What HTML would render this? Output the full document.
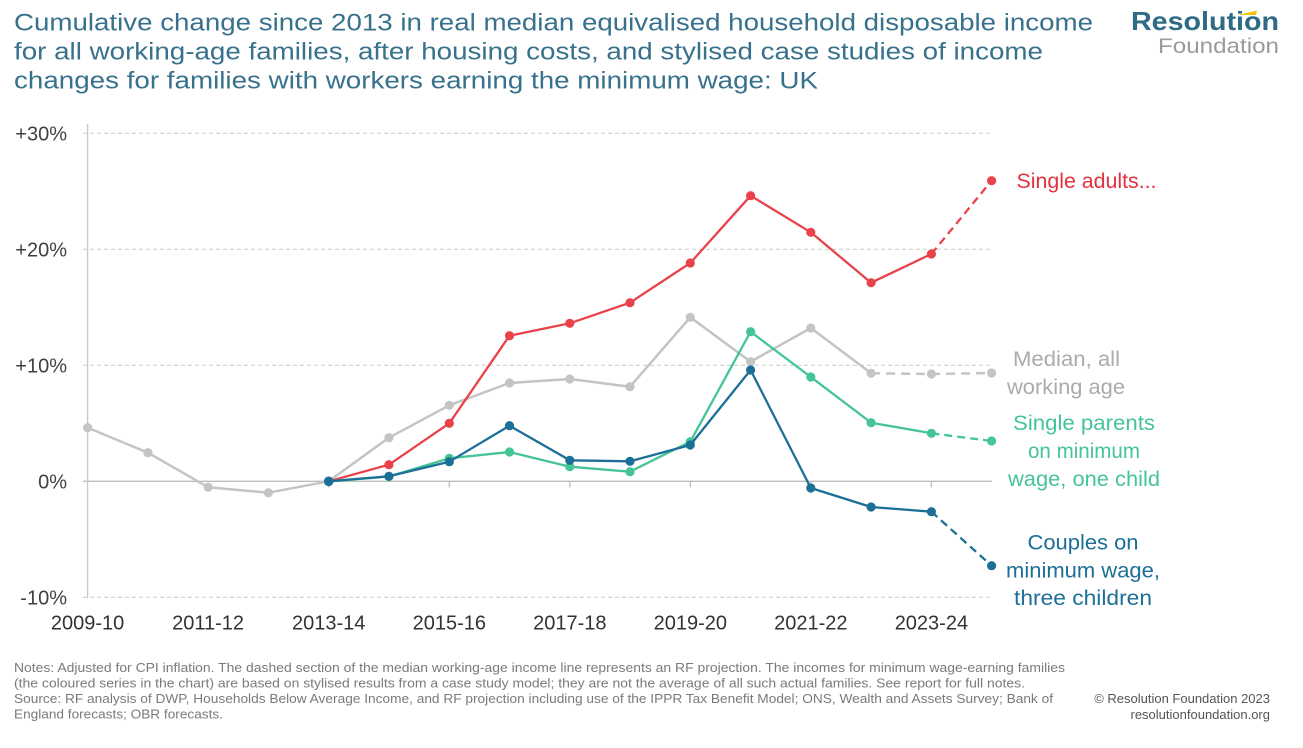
<!DOCTYPE html>
<html><head><meta charset="utf-8"><style>
html,body{margin:0;padding:0;background:#fff;}
svg{display:block;}
text{font-family:"Liberation Sans",sans-serif;}
</style></head><body>
<svg width="1303" height="748" viewBox="0 0 1303 748" xmlns="http://www.w3.org/2000/svg">
<rect width="1303" height="748" fill="#fff"/>
<!-- Title -->
<g fill="#37718C" font-size="24">
<text x="14" y="30.5" textLength="1079" lengthAdjust="spacingAndGlyphs">Cumulative change since 2013 in real median equivalised household disposable income</text>
<text x="14" y="59.5" textLength="1029" lengthAdjust="spacingAndGlyphs">for all working-age families, after housing costs, and stylised case studies of income</text>
<text x="14" y="88.5" textLength="804" lengthAdjust="spacingAndGlyphs">changes for families with workers earning the minimum wage: UK</text>
</g>
<!-- Logo -->
<text x="1131" y="30" font-size="26" font-weight="bold" fill="#2E6B85" textLength="148" lengthAdjust="spacingAndGlyphs">Resolution</text>
<polygon points="1238,15 1257,10.5 1256,15" fill="#F2C500"/>
<text x="1158" y="53" font-size="21" fill="#9B9B9B" textLength="121" lengthAdjust="spacingAndGlyphs">Foundation</text>

<!-- Gridlines -->
<g stroke="#CACACA" stroke-width="1" stroke-dasharray="4,3">
<line x1="83" y1="133.3" x2="992" y2="133.3"/>
<line x1="83" y1="249.3" x2="992" y2="249.3"/>
<line x1="83" y1="365.3" x2="992" y2="365.3"/>
<line x1="83" y1="597.3" x2="992" y2="597.3"/>
</g>
<line x1="83" y1="481.3" x2="992" y2="481.3" stroke="#BDBDBD" stroke-width="1.3"/>
<line x1="87.6" y1="124" x2="87.6" y2="598" stroke="#C8C8C8" stroke-width="1.3"/>
<g stroke="#BDBDBD" stroke-width="1.3">
<line x1="328.7" y1="481.3" x2="328.7" y2="487.5"/>
<line x1="449.3" y1="481.3" x2="449.3" y2="487.5"/>
<line x1="569.8" y1="481.3" x2="569.8" y2="487.5"/>
<line x1="690.3" y1="481.3" x2="690.3" y2="487.5"/>
<line x1="810.8" y1="481.3" x2="810.8" y2="487.5"/>
<line x1="931.4" y1="481.3" x2="931.4" y2="487.5"/>
</g>

<!-- Y labels -->
<g fill="#404040" font-size="20" text-anchor="end">
<text x="67" y="140.5">+30%</text>
<text x="67" y="256.5">+20%</text>
<text x="67" y="372.5">+10%</text>
<text x="67" y="488.5">0%</text>
<text x="67" y="604.5">-10%</text>
</g>
<!-- X labels -->
<g fill="#333" font-size="20" text-anchor="middle">
<text x="87.6" y="629.5">2009-10</text>
<text x="208.1" y="629.5">2011-12</text>
<text x="328.7" y="629.5">2013-14</text>
<text x="449.3" y="629.5">2015-16</text>
<text x="569.8" y="629.5">2017-18</text>
<text x="690.3" y="629.5">2019-20</text>
<text x="810.8" y="629.5">2021-22</text>
<text x="931.4" y="629.5">2023-24</text>
</g>

<!-- Grey median -->
<g stroke="#C4C4C4" stroke-width="2.5" fill="none" stroke-linejoin="round">
<polyline points="87.6,427.6 147.9,452.7 208.1,487.2 268.4,492.7 328.7,481.3 388.9,437.7 449.3,405.3 509.5,383 569.8,379 630,386.7 690.3,317.3 750.6,361.7 810.8,328 871.1,373.3"/>
<polyline points="871.1,373.3 931.4,374 991.6,373" stroke-dasharray="9,6"/>
</g>
<g fill="#C4C4C4">
<circle cx="87.6" cy="427.6" r="4.6"/><circle cx="147.9" cy="452.7" r="4.6"/><circle cx="208.1" cy="487.2" r="4.6"/><circle cx="268.4" cy="492.7" r="4.6"/><circle cx="388.9" cy="437.7" r="4.6"/><circle cx="449.3" cy="405.3" r="4.6"/><circle cx="509.5" cy="383" r="4.6"/><circle cx="569.8" cy="379" r="4.6"/><circle cx="630" cy="386.7" r="4.6"/><circle cx="690.3" cy="317.3" r="4.6"/><circle cx="750.6" cy="361.7" r="4.6"/><circle cx="810.8" cy="328" r="4.6"/><circle cx="871.1" cy="373.3" r="4.6"/><circle cx="931.4" cy="374" r="4.6"/><circle cx="991.6" cy="373" r="4.6"/>
</g>

<!-- Red -->
<g stroke="#E8434B" stroke-width="2.3" fill="none" stroke-linejoin="round">
<polyline points="328.7,481.3 388.9,464.7 449.3,423.3 509.5,335.7 569.8,323.3 630,302.7 690.3,263 750.6,195.7 810.8,232.3 871.1,282.7 931.4,254"/>
<polyline points="931.4,254 991.6,180.7" stroke-dasharray="8,5"/>
</g>
<g fill="#E8434B">
<circle cx="388.9" cy="464.7" r="4.6"/><circle cx="449.3" cy="423.3" r="4.6"/><circle cx="509.5" cy="335.7" r="4.6"/><circle cx="569.8" cy="323.3" r="4.6"/><circle cx="630" cy="302.7" r="4.6"/><circle cx="690.3" cy="263" r="4.6"/><circle cx="750.6" cy="195.7" r="4.6"/><circle cx="810.8" cy="232.3" r="4.6"/><circle cx="871.1" cy="282.7" r="4.6"/><circle cx="931.4" cy="254" r="4.6"/><circle cx="991.6" cy="180.7" r="4.6"/>
</g>

<!-- Green -->
<g stroke="#45C496" stroke-width="2.3" fill="none" stroke-linejoin="round">
<polyline points="328.7,481.3 388.9,476.5 449.3,458.3 509.5,452 569.8,466.7 630,471.7 690.3,441.7 750.6,331.7 810.8,377 871.1,422.7 931.4,433.3"/>
<polyline points="931.4,433.3 991.6,441" stroke-dasharray="8,5"/>
</g>
<g fill="#45C496">
<circle cx="388.9" cy="476.5" r="4.6"/><circle cx="449.3" cy="458.3" r="4.6"/><circle cx="509.5" cy="452" r="4.6"/><circle cx="569.8" cy="466.7" r="4.6"/><circle cx="630" cy="471.7" r="4.6"/><circle cx="690.3" cy="441.7" r="4.6"/><circle cx="750.6" cy="331.7" r="4.6"/><circle cx="810.8" cy="377" r="4.6"/><circle cx="871.1" cy="422.7" r="4.6"/><circle cx="931.4" cy="433.3" r="4.6"/><circle cx="991.6" cy="441" r="4.6"/>
</g>

<!-- Blue -->
<g stroke="#1C6F96" stroke-width="2.3" fill="none" stroke-linejoin="round">
<polyline points="328.7,481.3 388.9,476.3 449.3,461.7 509.5,425.7 569.8,460.3 630,461.3 690.3,445 750.6,370 810.8,488 871.1,507 931.4,511.7"/>
<polyline points="931.4,511.7 991.6,565.7" stroke-dasharray="8,5"/>
</g>
<g fill="#1C6F96">
<circle cx="328.7" cy="481.3" r="4.8"/><circle cx="388.9" cy="476.3" r="4.6"/><circle cx="449.3" cy="461.7" r="4.6"/><circle cx="509.5" cy="425.7" r="4.6"/><circle cx="569.8" cy="460.3" r="4.6"/><circle cx="630" cy="461.3" r="4.6"/><circle cx="690.3" cy="445" r="4.6"/><circle cx="750.6" cy="370" r="4.6"/><circle cx="810.8" cy="488" r="4.6"/><circle cx="871.1" cy="507" r="4.6"/><circle cx="931.4" cy="511.7" r="4.6"/><circle cx="991.6" cy="565.7" r="4.6"/>
</g>

<!-- Series labels -->
<text x="1016.5" y="188" font-size="21" fill="#E4303C" textLength="140" lengthAdjust="spacingAndGlyphs">Single adults...</text>
<g fill="#ABABAB" font-size="21" text-anchor="middle">
<text x="1066.5" y="366" textLength="107" lengthAdjust="spacingAndGlyphs">Median, all</text>
<text x="1066" y="394" textLength="118" lengthAdjust="spacingAndGlyphs">working age</text>
</g>
<g fill="#45C496" font-size="21" text-anchor="middle">
<text x="1084" y="430" textLength="142" lengthAdjust="spacingAndGlyphs">Single parents</text>
<text x="1084" y="458" textLength="112" lengthAdjust="spacingAndGlyphs">on minimum</text>
<text x="1084" y="486" textLength="152" lengthAdjust="spacingAndGlyphs">wage, one child</text>
</g>
<g fill="#1C6F96" font-size="21" text-anchor="middle">
<text x="1083" y="549.5" textLength="111" lengthAdjust="spacingAndGlyphs">Couples on</text>
<text x="1083" y="577.5" textLength="154" lengthAdjust="spacingAndGlyphs">minimum wage,</text>
<text x="1083" y="605" textLength="138" lengthAdjust="spacingAndGlyphs">three children</text>
</g>

<!-- Footer -->
<g fill="#7A7A7A" font-size="12.5">
<text x="14" y="672" textLength="1051" lengthAdjust="spacingAndGlyphs">Notes: Adjusted for CPI inflation. The dashed section of the median working-age income line represents an RF projection. The incomes for minimum wage-earning families</text>
<text x="14" y="687.5" textLength="1011" lengthAdjust="spacingAndGlyphs">(the coloured series in the chart) are based on stylised results from a case study model; they are not the average of all such actual families.  See report for full notes.</text>
<text x="14" y="703" textLength="1039" lengthAdjust="spacingAndGlyphs">Source: RF analysis of DWP, Households Below Average Income, and RF projection including use of the IPPR Tax Benefit Model; ONS, Wealth and Assets Survey; Bank of</text>
<text x="14" y="718.5" textLength="209" lengthAdjust="spacingAndGlyphs">England forecasts; OBR forecasts.</text>
</g>
<g fill="#555" font-size="13" text-anchor="end">
<text x="1270" y="703">© Resolution Foundation 2023</text>
<text x="1270" y="719">resolutionfoundation.org</text>
</g>
</svg>
</body></html>
